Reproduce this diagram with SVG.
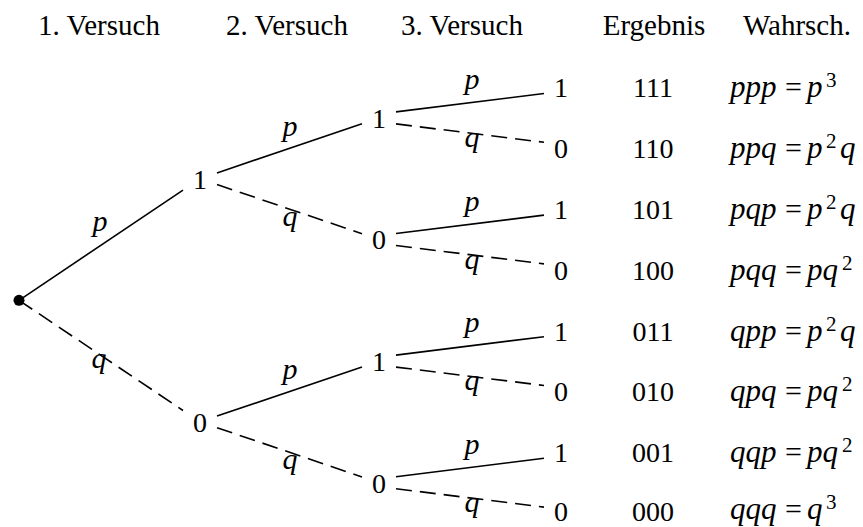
<svg xmlns="http://www.w3.org/2000/svg" width="863" height="527" viewBox="0 0 863 527">
<style>
text{font-family:'Liberation Serif','DejaVu Serif','Times New Roman',serif;fill:#000}
.t{font-size:28px;text-anchor:middle}
.h{font-size:29px}
.m{font-size:31px;font-style:italic}
.r{font-style:normal;font-size:30px}
.s{font-size:21px;font-style:normal}
.lb{font-size:30px;font-style:italic;text-anchor:middle}
.e{stroke:#000;stroke-width:1.6;fill:none}
.d{stroke-dasharray:16 8}
</style>
<rect width="863" height="527" fill="#fff"/>
<g id="headers">
<text class="t h" x="99" y="35">1. Versuch</text>
<text class="t h" x="287" y="35">2. Versuch</text>
<text class="t h" x="462" y="35">3. Versuch</text>
<text class="t h" x="654" y="35">Ergebnis</text>
<text class="t h" x="797" y="35">Wahrsch.</text>
</g>
<g id="connectors">
<line class="e" x1="19" y1="300.3" x2="183" y2="190.1"/>
<line class="e d" x1="19" y1="300.3" x2="183" y2="410.5"/>
<line class="e" x1="217" y1="172.9" x2="362" y2="123.7"/>
<line class="e d" x1="217" y1="184.5" x2="362" y2="233.7"/>
<line class="e" x1="217" y1="416.1" x2="362" y2="366.9"/>
<line class="e d" x1="217" y1="427.7" x2="362" y2="476.9"/>
<line class="e" x1="396" y1="111.9" x2="544" y2="93.5"/>
<line class="e d" x1="396" y1="123.9" x2="544" y2="142.3"/>
<line class="e" x1="396" y1="233.5" x2="544" y2="215.1"/>
<line class="e d" x1="396" y1="245.5" x2="544" y2="263.9"/>
<line class="e" x1="396" y1="355.1" x2="544" y2="336.7"/>
<line class="e d" x1="396" y1="367.1" x2="544" y2="385.5"/>
<line class="e" x1="396" y1="476.7" x2="544" y2="458.3"/>
<line class="e d" x1="396" y1="488.7" x2="544" y2="507.1"/>
<text class="lb" x="100" y="231">p</text>
<text class="lb" x="99" y="368">q</text>
<text class="lb" x="290" y="135.5">p</text>
<text class="lb" x="290" y="226">q</text>
<text class="lb" x="290" y="378.7">p</text>
<text class="lb" x="290" y="469.2">q</text>
<text class="lb" x="472" y="89">p</text>
<text class="lb" x="472" y="147">q</text>
<text class="lb" x="472" y="210.6">p</text>
<text class="lb" x="472" y="268.6">q</text>
<text class="lb" x="472" y="332.2">p</text>
<text class="lb" x="472" y="390.2">q</text>
<text class="lb" x="472" y="453.8">p</text>
<text class="lb" x="472" y="511.8">q</text>
</g>
<g id="root"><circle cx="19" cy="300.3" r="5.5" fill="#000"/></g>
<g id="n1"><text class="t" x="200" y="188.5">1</text></g>
<g id="n0"><text class="t" x="200" y="431.7">0</text></g>
<g id="n11"><text class="t" x="379" y="127.7">1</text></g>
<g id="n10"><text class="t" x="379" y="249.3">0</text></g>
<g id="n01"><text class="t" x="379" y="370.9">1</text></g>
<g id="n00"><text class="t" x="379" y="492.5">0</text></g>
<g id="n111"><text class="t" x="561" y="97.3">1</text></g>
<g id="n110"><text class="t" x="561" y="158.1">0</text></g>
<g id="n101"><text class="t" x="561" y="218.9">1</text></g>
<g id="n100"><text class="t" x="561" y="279.7">0</text></g>
<g id="n011"><text class="t" x="561" y="340.5">1</text></g>
<g id="n010"><text class="t" x="561" y="401.3">0</text></g>
<g id="n001"><text class="t" x="561" y="462.1">1</text></g>
<g id="n000"><text class="t" x="561" y="521">0</text></g>
<g id="results">
<text class="t" x="653" y="97.3">111</text>
<text class="t" x="653" y="158.1">110</text>
<text class="t" x="653" y="218.9">101</text>
<text class="t" x="653" y="279.7">100</text>
<text class="t" x="653" y="340.5">011</text>
<text class="t" x="653" y="401.3">010</text>
<text class="t" x="653" y="462.1">001</text>
<text class="t" x="653" y="521">000</text>
</g>
<g id="probabilities">
<text class="m" x="730" y="97.3">ppp<tspan class="r" x="785">=</tspan><tspan x="807">p</tspan><tspan class="s" x="826" dy="-10">3</tspan></text>
<text class="m" x="730" y="158.1">ppq<tspan class="r" x="785">=</tspan><tspan x="807">p</tspan><tspan class="s" x="826" dy="-10">2</tspan><tspan x="840" dy="10">q</tspan></text>
<text class="m" x="730" y="218.9">pqp<tspan class="r" x="785">=</tspan><tspan x="807">p</tspan><tspan class="s" x="826" dy="-10">2</tspan><tspan x="840" dy="10">q</tspan></text>
<text class="m" x="730" y="279.7">pqq<tspan class="r" x="785">=</tspan><tspan x="807">pq</tspan><tspan class="s" x="842" dy="-10">2</tspan></text>
<text class="m" x="730" y="340.5">qpp<tspan class="r" x="785">=</tspan><tspan x="807">p</tspan><tspan class="s" x="826" dy="-10">2</tspan><tspan x="840" dy="10">q</tspan></text>
<text class="m" x="730" y="401.3">qpq<tspan class="r" x="785">=</tspan><tspan x="807">pq</tspan><tspan class="s" x="842" dy="-10">2</tspan></text>
<text class="m" x="730" y="462.1">qqp<tspan class="r" x="785">=</tspan><tspan x="807">pq</tspan><tspan class="s" x="842" dy="-10">2</tspan></text>
<text class="m" x="730" y="519">qqq<tspan class="r" x="785">=</tspan><tspan x="807">q</tspan><tspan class="s" x="826" dy="-10">3</tspan></text>
</g>
</svg>
